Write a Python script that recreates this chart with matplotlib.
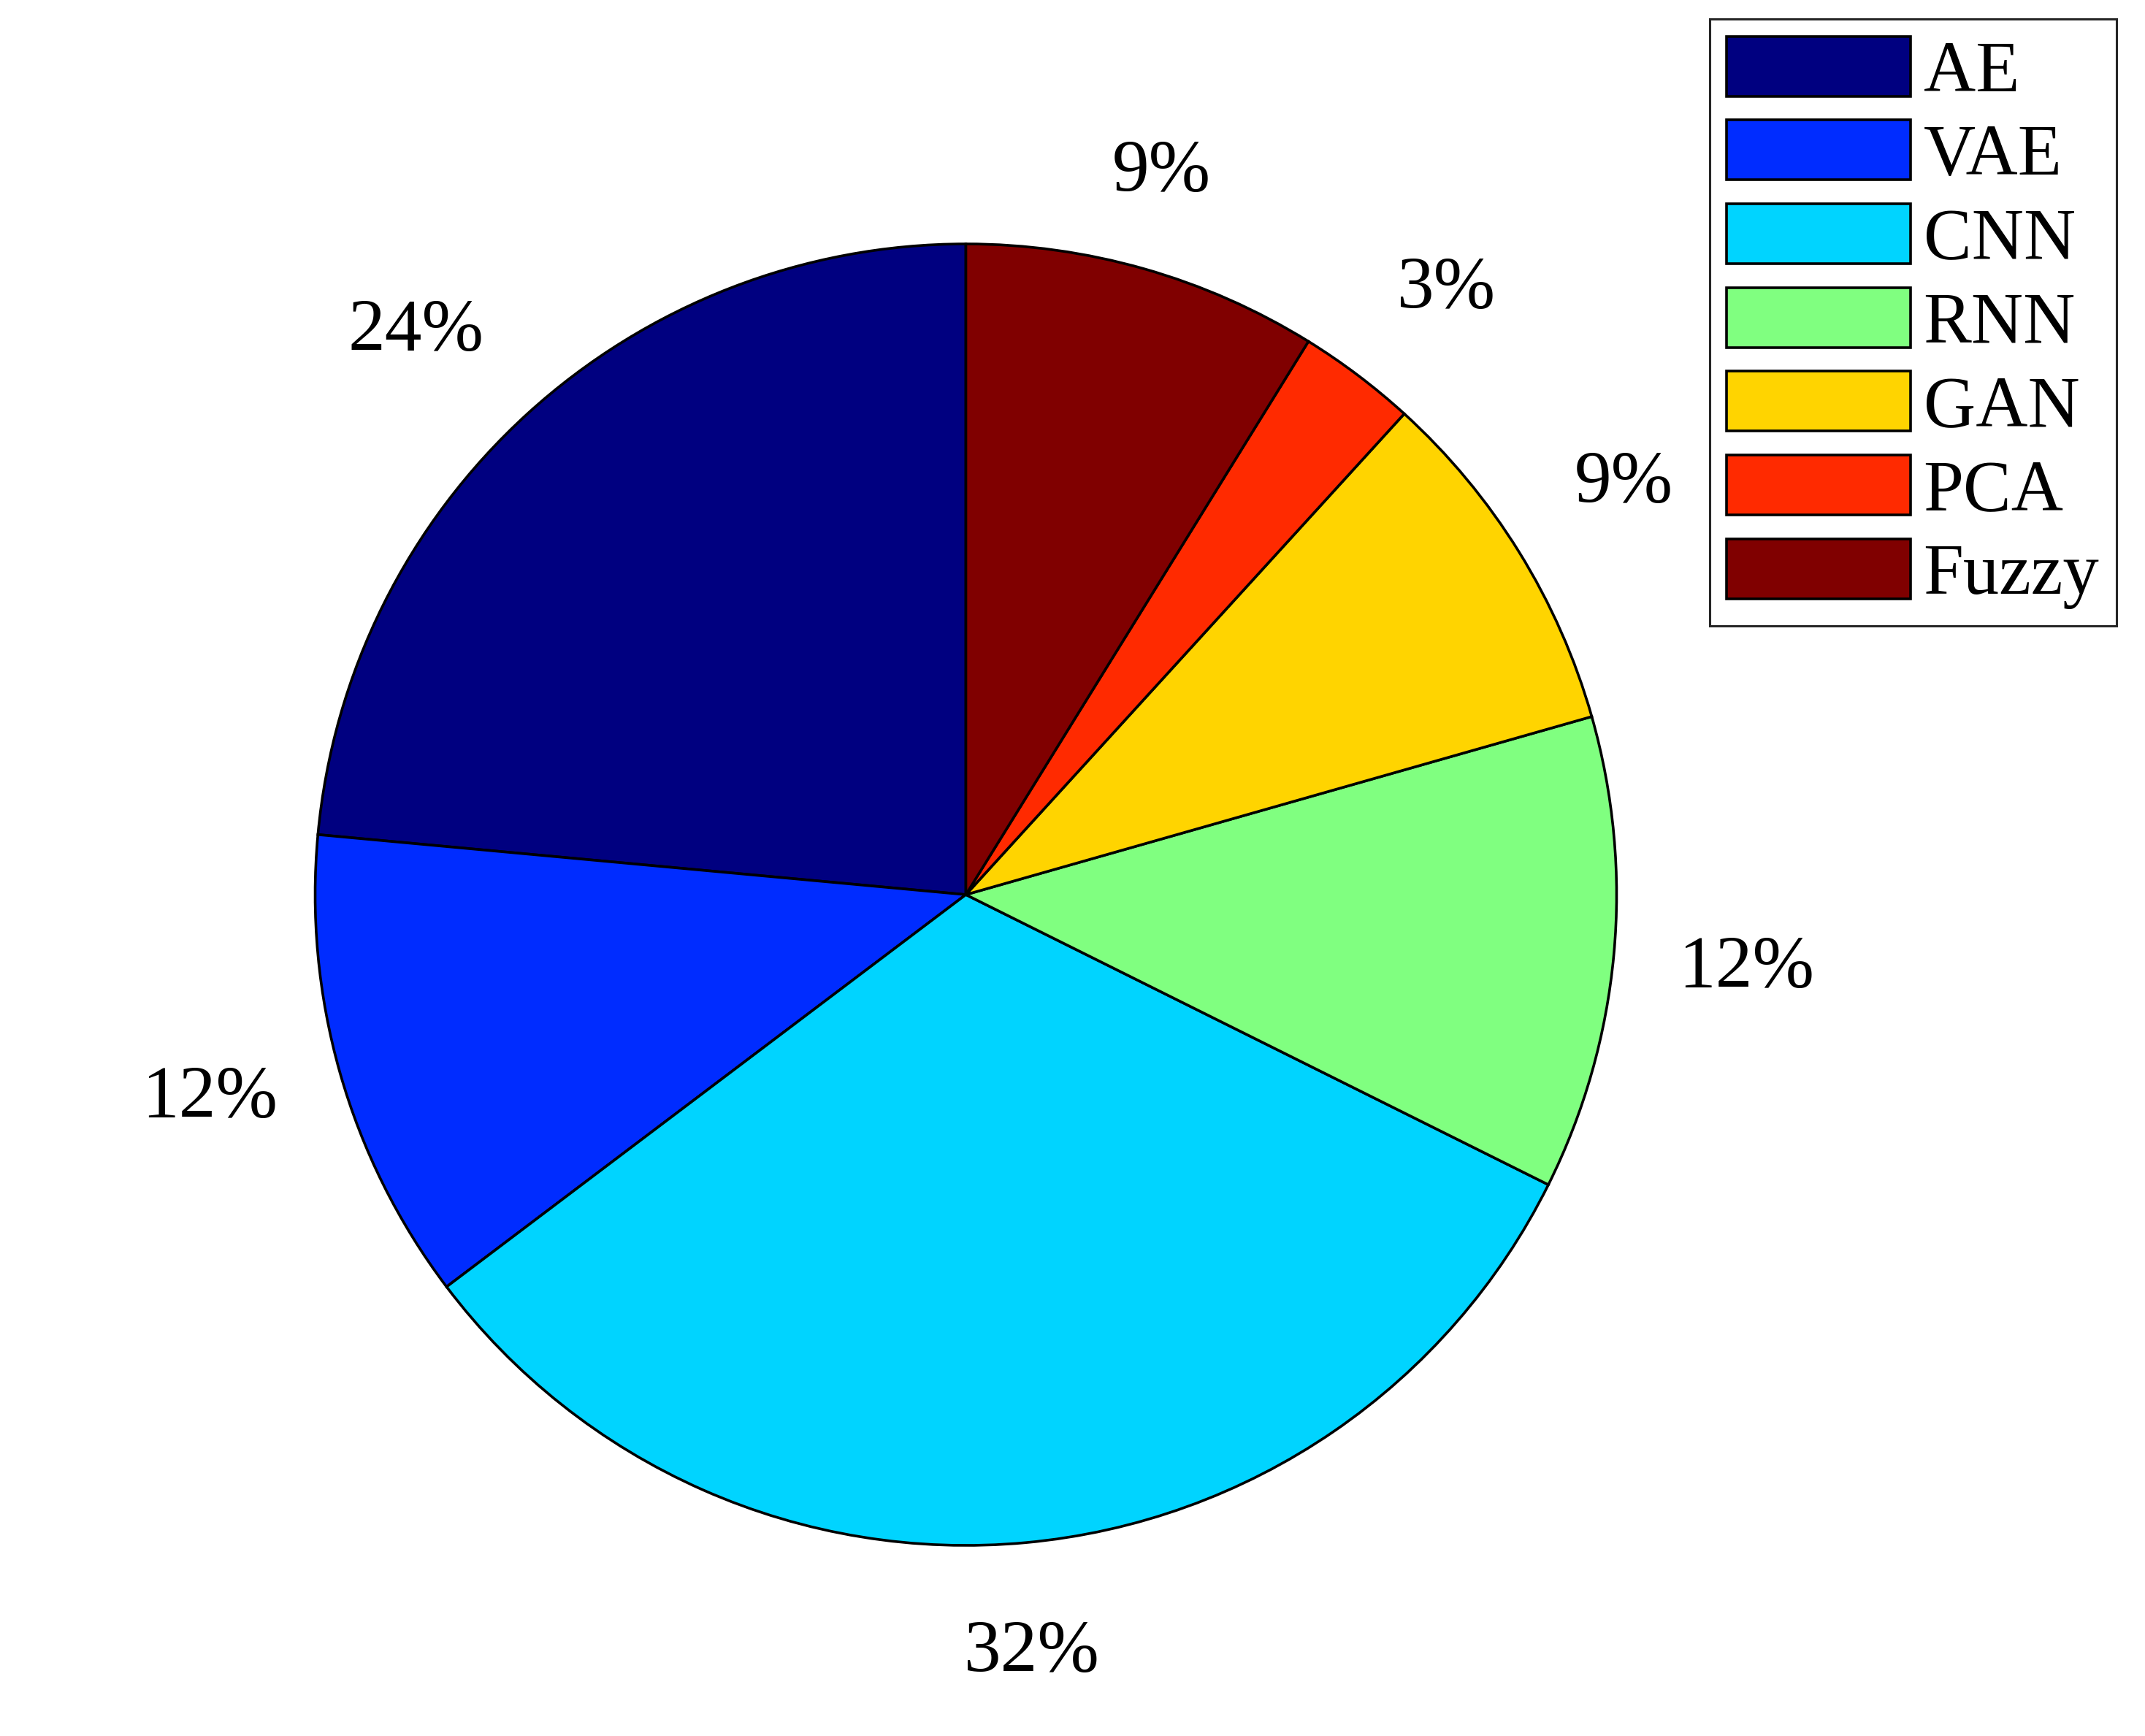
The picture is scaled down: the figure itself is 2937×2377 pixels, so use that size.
import numpy as np
import matplotlib
matplotlib.use("Agg")
import matplotlib.pyplot as plt

# Data (counts behind the rounded percentages)
methods = ["AE", "VAE", "CNN", "RNN", "GAN", "PCA", "Fuzzy"]
counts = [8, 4, 11, 4, 3, 1, 3]

# jet(7) colours, as MATLAB assigns them
colors = [
    "#000080",
    "#002cff",
    "#00d4ff",
    "#80ff80",
    "#ffd400",
    "#ff2a00",
    "#800000",
]

plt.rcParams["font.family"] = ["Liberation Serif", "DejaVu Serif"]

W, H = 2937, 2377
fig = plt.figure(figsize=(W / 100, H / 100), dpi=100)

# pie centre and radius in pixels
cx, cy, r = 1322.5, 1225, 891
ax = fig.add_axes([(cx - r) / W, (H - cy - r) / H, 2 * r / W, 2 * r / H])

total = sum(counts)
wedges, _ = ax.pie(
    counts,
    colors=colors,
    startangle=90,
    counterclock=True,
    wedgeprops=dict(edgecolor="black", linewidth=2.6),
)
ax.set_xlim(-1, 1)
ax.set_ylim(-1, 1)
ax.set_aspect("equal")
ax.axis("off")

# percentage labels, MATLAB-style placement
for w, c in zip(wedges, counts):
    mid = np.deg2rad((w.theta1 + w.theta2) / 2)
    x, y = 1.1 * np.cos(mid), 1.1 * np.sin(mid)
    deg = np.rad2deg(mid) % 360
    # octant based alignment
    if 67.5 <= deg <= 112.5 or 247.5 <= deg <= 292.5:
        ha = "center"
    elif np.cos(mid) > 0:
        ha = "left"
    else:
        ha = "right"
    dy = 0
    if deg <= 22.5 or deg >= 337.5 or 157.5 <= deg <= 202.5:
        va = "center"
        dy = -9
    elif np.sin(mid) > 0:
        va = "bottom"
        dy = -1
    else:
        va = "top"
        dy = -13
    ax.annotate(f"{round(100 * c / total)}%", (x, y), xytext=(0, dy),
                textcoords="offset points", ha=ha, va=va,
                fontsize=73, annotation_clip=False)

leg = fig.legend(
    wedges,
    methods,
    loc="upper right",
    bbox_to_anchor=(2898 / W, 1 - 26 / H),
    bbox_transform=fig.transFigure,
    borderaxespad=0,
    fontsize=71,
    handlelength=2.55,
    handleheight=0.9,
    handletextpad=0.18,
    labelspacing=0.19,
    borderpad=0.24,
    fancybox=False,
    framealpha=1,
)
leg.get_frame().set_edgecolor("#262626")
leg.get_frame().set_linewidth(2.2)

fig.savefig("out.png", dpi=100)
